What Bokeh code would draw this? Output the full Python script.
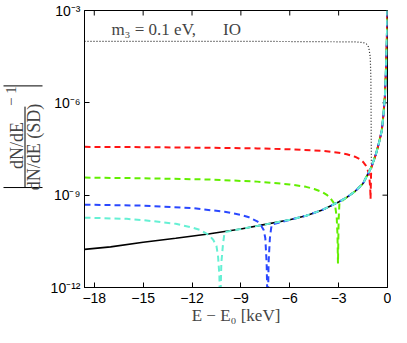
import numpy as np
from bokeh.plotting import figure
from bokeh.layouts import row
from bokeh.models import Label, FixedTicker, Range1d
from bokeh.embed import file_html
from bokeh.resources import INLINE

# ---- data (E - E0 in keV, log10 of |ratio - 1|) ----
E_sd = [-18.6, -17, -15, -13, -11, -9, -7.5, -6, -5, -4, -3, -2.5, -2, -1.5, -1.0,
        -0.7, -0.5, -0.35, -0.25, -0.15, -0.08, -0.04, -0.01, 0.0]
lg_sd = [-10.76, -10.68, -10.53, -10.40, -10.26, -10.10, -9.95, -9.80, -9.67, -9.48,
         -9.22, -9.07, -8.88, -8.62, -8.10, -7.65, -7.25, -6.9, -6.4, -5.7, -4.7,
         -3.9, -3.2, -3.0]

E_dot = [-18.6, -10, -5, -2, -1.5, -1.3, -1.15, -1.06, -1.02, -1.0, -0.99]
lg_dot = [-4.00, -4.00, -4.01, -4.02, -4.04, -4.08, -4.2, -4.5, -5.2, -7.0, -8.08]

E_red = [-18.6, -15, -11, -8, -6, -4, -3, -2.5, -2, -1.7, -1.5, -1.35, -1.25,
         -1.15, -1.1, -1.06, -1.04, -1.02, -1.0]
lg_red = [-7.43, -7.44, -7.46, -7.48, -7.51, -7.56, -7.62, -7.67, -7.75, -7.83,
          -7.92, -8.02, -8.12, -8.3, -8.5, -8.8, -9.13, -8.6, -8.12]

E_grn = [-18.6, -15, -11, -8, -6, -5, -4.5, -4, -3.7, -3.5, -3.3, -3.2, -3.12,
         -3.07, -3.04, -3.0, -2.95]
lg_grn = [-8.43, -8.45, -8.49, -8.56, -8.65, -8.73, -8.8, -8.9, -9.0, -9.1, -9.25,
          -9.4, -9.7, -10.3, -11.22, -9.8, -9.25]

E_blu = [-18.6, -15, -12, -10, -9, -8.5, -8, -7.8, -7.6, -7.5, -7.42, -7.35,
         -7.3, -7.22, -7.15, -7.1]
lg_blu = [-9.31, -9.34, -9.42, -9.54, -9.64, -9.72, -9.85, -9.95, -10.13, -10.4,
          -11.2, -13.0, -11.2, -10.4, -10.1, -9.95]

E_cyn = [-18.6, -16, -15, -13, -12, -11.5, -11, -10.7, -10.5, -10.4, -10.32,
         -10.28, -10.2, -10.1, -10.0]
lg_cyn = [-9.73, -9.77, -9.81, -9.93, -10.05, -10.13, -10.28, -10.45, -10.65,
          -11.0, -11.6, -13.0, -11.2, -10.6, -10.2]

x_ticks = [-18, -15, -12, -9, -6, -3, 0]
y_ticks = [1e-12, 1e-9, 1e-6, 1e-3]
y_tick_labels = ["10\u207b\u00b9\u00b2", "10\u207b\u2079", "10\u207b\u2076", "10\u207b\u00b3"]

H = 327
LW = 46          # width of the strip that carries the y-axis label
SERIF = "Liberation Serif"


def curve(E, lg):
    """A curve's own read points, continued by the SD curve after its dip."""
    es = [e for e in E_sd if e > E[-1]]
    ls = [l for e, l in zip(E_sd, lg_sd) if e > E[-1]]
    xs = list(E) + es
    ys = [10.0 ** v for v in list(lg) + ls]
    return xs, ys


# ---------------- main plot ----------------
p = figure(width=391 - LW, height=H, y_axis_type="log", output_backend="svg",
           toolbar_location=None, x_range=Range1d(-18.6, 0), y_range=Range1d(1e-12, 1e-3),
           min_border_left=38, min_border_right=4, min_border_top=10, min_border_bottom=37)
p.grid.visible = False
p.outline_line_color = "black"
p.outline_line_width = 1
p.background_fill_color = "white"

ax = p.xaxis[0]
ax.ticker = FixedTicker(ticks=x_ticks)
ax.major_label_overrides = {t: (str(t).replace("-", "\u2212")) for t in x_ticks}
ay = p.yaxis[0]
ay.ticker = FixedTicker(ticks=y_ticks)
ay.major_label_overrides = {t: s for t, s in zip(y_ticks, y_tick_labels)}
for a in (ax, ay):
    a.major_tick_in = 5
    a.major_tick_out = 0
    a.minor_tick_line_color = None
    a.major_label_text_font = "Liberation Sans"
    a.major_label_text_font_size = "14px"
    a.axis_line_color = "black"
    a.major_tick_line_color = "black"
    a.major_label_text_color = "black"
ax.major_label_standoff = 5
ay.major_label_standoff = 4

ax.axis_label = "E \u2212 E\u2080 [keV]"
ax.axis_label_text_font = SERIF
ax.axis_label_text_font_style = "normal"
ax.axis_label_text_font_size = "17px"
ax.axis_label_standoff = 0

# ticks on the top and right edges (inside), as dash markers clipped by the frame
p.scatter(x_ticks, [y_ticks[-1]] * len(x_ticks), marker="dash", size=10, angle=np.pi / 2,
          line_color="black", line_width=1)
p.scatter([x_ticks[-1]] * len(y_ticks), y_ticks, marker="dash", size=10,
          line_color="black", line_width=1)

# curves
p.line(E_sd, [10.0 ** v for v in lg_sd], line_color="black", line_width=1.6)
xs, ys = curve(E_dot, lg_dot)
p.line(xs, ys, line_color="#222222", line_width=1.2, line_dash="1 2")
for E, lg, col in [(E_red, lg_red, "#ff1414"), (E_grn, lg_grn, "#62ee00"),
                   (E_blu, lg_blu, "#2a48ff"), (E_cyn, lg_cyn, "#66f0d4")]:
    xs, ys = curve(E, lg)
    p.line(xs, ys, line_color=col, line_width=2, line_dash="6 4")

# in-plot annotation
p.add_layout(Label(x=-16.95, y=10 ** -3.93, text="m\u2083 = 0.1 eV,", text_font=SERIF,
                   text_font_size="17px", text_baseline="bottom", text_align="left"))
p.add_layout(Label(x=-10.1, y=10 ** -3.93, text="IO", text_font=SERIF,
                   text_font_size="17px", text_baseline="bottom", text_align="left"))

# ---------------- y-axis label strip (pixel coordinates, y up) ----------------
lab = figure(width=LW, height=H, output_backend="svg", toolbar_location=None,
             x_range=Range1d(0, LW), y_range=Range1d(0, H), x_axis_location=None,
             y_axis_location=None, min_border=0, outline_line_color=None)
lab.grid.visible = False
rot = np.pi / 2
lab.add_layout(Label(x=16, y=167.5, text="dN/dE", angle=rot, text_font=SERIF,
                     text_font_size="18px", text_align="center", text_baseline="middle"))
lab.add_layout(Label(x=33, y=166, text="dN/dE (SD)", angle=rot, text_font=SERIF,
                     text_font_size="18px", text_align="center", text_baseline="middle"))
lab.add_layout(Label(x=10, y=226, text="\u2212 1", angle=rot, text_font=SERIF,
                     text_font_size="15px", text_align="center", text_baseline="middle"))
lab.segment(x0=[24.5], y0=[118], x1=[24.5], y1=[213.5], line_color="black", line_width=1)
lab.segment(x0=[3, 3], y0=[118, 238], x1=[42, 42], y1=[118, 238], line_color="black",
            line_width=1)

layout = row(lab, p)
open("out.html", "w").write(file_html(layout, INLINE))
